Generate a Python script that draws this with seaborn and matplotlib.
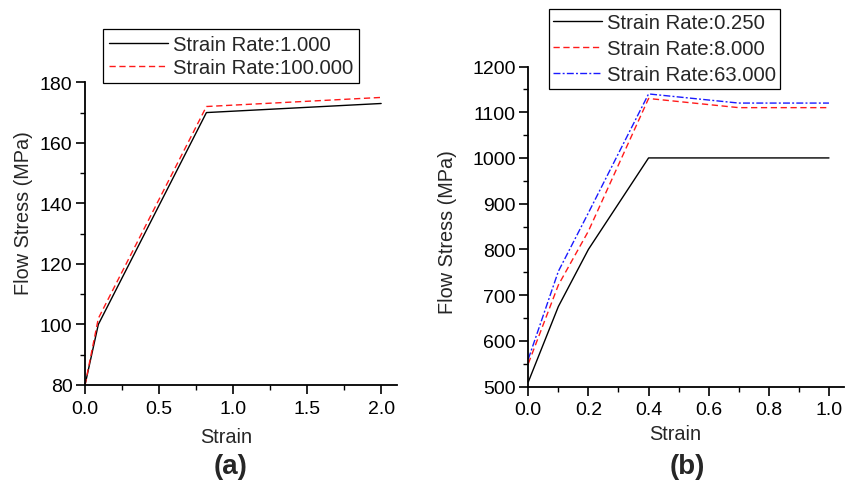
import matplotlib
matplotlib.use("Agg")
import matplotlib.pyplot as plt
from matplotlib.ticker import MultipleLocator
import seaborn as sns
import pandas as pd

# (a) flow stress curves
strain_a = [0.0, 0.09, 0.82, 2.0]
stress_a_rate1 = [80, 100, 170, 173]
stress_a_rate100 = [80, 102, 172, 175]
labels_a = ["Strain Rate:1.000", "Strain Rate:100.000"]

# (b) flow stress curves
strain_b = [0.0, 0.1, 0.2, 0.4, 0.7, 1.0]
stress_b_rate025 = [510, 675, 800, 1000, 1000, 1000]
stress_b_rate8 = [550, 722, 840, 1130, 1110, 1110]
stress_b_rate63 = [560, 752, 880, 1140, 1120, 1120]
labels_b = ["Strain Rate:0.250", "Strain Rate:8.000", "Strain Rate:63.000"]

sns.set_theme(style="ticks")
plt.rcParams["font.family"] = ["Liberation Sans", "DejaVu Sans"]

W, H = 854, 485
fig = plt.figure(figsize=(W / 100, H / 100), dpi=100)


def fx(px):
    return px / W


def fy(py):
    return 1 - py / H


ax1 = fig.add_axes([fx(85), fy(386), 311.7 / W, 302.7 / H])
ax2 = fig.add_axes([fx(528.3), fy(387.5), 315.7 / W, 320 / H])

styles = [
    dict(color="black", linestyle="-"),
    dict(color="#ff1a1a", linestyle=(0, (4.5, 2.6))),
    dict(color="#1a1aff", linestyle=(0, (5, 1.6, 1.4, 1.6))),
]

df_a = pd.DataFrame({"strain": strain_a, labels_a[0]: stress_a_rate1, labels_a[1]: stress_a_rate100})
df_b = pd.DataFrame({"strain": strain_b, labels_b[0]: stress_b_rate025,
                     labels_b[1]: stress_b_rate8, labels_b[2]: stress_b_rate63})

for i, lab in enumerate(labels_a):
    sns.lineplot(data=df_a, x="strain", y=lab, ax=ax1, label=lab, linewidth=1.0,
                 clip_on=False, **styles[i])
for i, lab in enumerate(labels_b):
    sns.lineplot(data=df_b, x="strain", y=lab, ax=ax2, label=lab, linewidth=1.0,
                 clip_on=False, **styles[i])

ax1.set_xlim(0, 2.105)
ax1.set_ylim(80, 180)
ax1.xaxis.set_major_locator(MultipleLocator(0.5))
ax1.xaxis.set_minor_locator(MultipleLocator(0.25))
ax1.yaxis.set_major_locator(MultipleLocator(20))
ax1.yaxis.set_minor_locator(MultipleLocator(10))

ax2.set_xlim(0, 1.05)
ax2.set_ylim(500, 1200)
ax2.xaxis.set_major_locator(MultipleLocator(0.2))
ax2.xaxis.set_minor_locator(MultipleLocator(0.1))
ax2.yaxis.set_major_locator(MultipleLocator(100))
ax2.yaxis.set_minor_locator(MultipleLocator(50))

for ax in (ax1, ax2):
    for side in ("top", "right"):
        ax.spines[side].set_visible(False)
    for side in ("left", "bottom"):
        ax.spines[side].set_linewidth(1.3)
        ax.spines[side].set_color("black")
    ax.tick_params(which="major", direction="out", length=6.5, width=1.2,
                   labelsize=14, colors="black")
    ax.tick_params(which="minor", direction="out", length=3.6, width=1.0, colors="black")
    ax.tick_params(axis="x", which="major", pad=4)
    ax.tick_params(axis="y", which="major", pad=2.5)
    ax.set_xlabel("Strain", fontsize=14.3, va="center")
    ax.set_ylabel("Flow Stress (MPa)", fontsize=14.3, va="center")
    ax.grid(False)

ax1.xaxis.set_label_coords(fx(226), fy(437.5), transform=fig.transFigure)
ax1.yaxis.set_label_coords(fx(24), fy(213), transform=fig.transFigure)
ax2.xaxis.set_label_coords(fx(675), fy(435), transform=fig.transFigure)
ax2.yaxis.set_label_coords(fx(448), fy(232), transform=fig.transFigure)

leg_a = ax1.legend(loc="upper left", bbox_to_anchor=(fx(103.3), fy(30)),
                   bbox_transform=fig.transFigure, borderaxespad=0, fontsize=14.6,
                   handlelength=2.9, handletextpad=0.25, borderpad=0.29, labelspacing=0.2,
                   fancybox=False, framealpha=1, edgecolor="black")
leg_b = ax2.legend(loc="upper left", bbox_to_anchor=(fx(549), fy(10)),
                   bbox_transform=fig.transFigure, borderaxespad=0, fontsize=14.6,
                   handlelength=2.38, handletextpad=0.25, borderpad=0.22, labelspacing=0.34,
                   fancybox=False, framealpha=1, edgecolor="black")
for leg in (leg_a, leg_b):
    leg.get_frame().set_linewidth(0.9)

fig.text(fx(231), fy(467), "(a)", fontsize=20, fontweight="bold", ha="center", va="center")
fig.text(fx(687), fy(467), "(b)", fontsize=20, fontweight="bold", ha="center", va="center")

fig.savefig("out.png", dpi=100)
